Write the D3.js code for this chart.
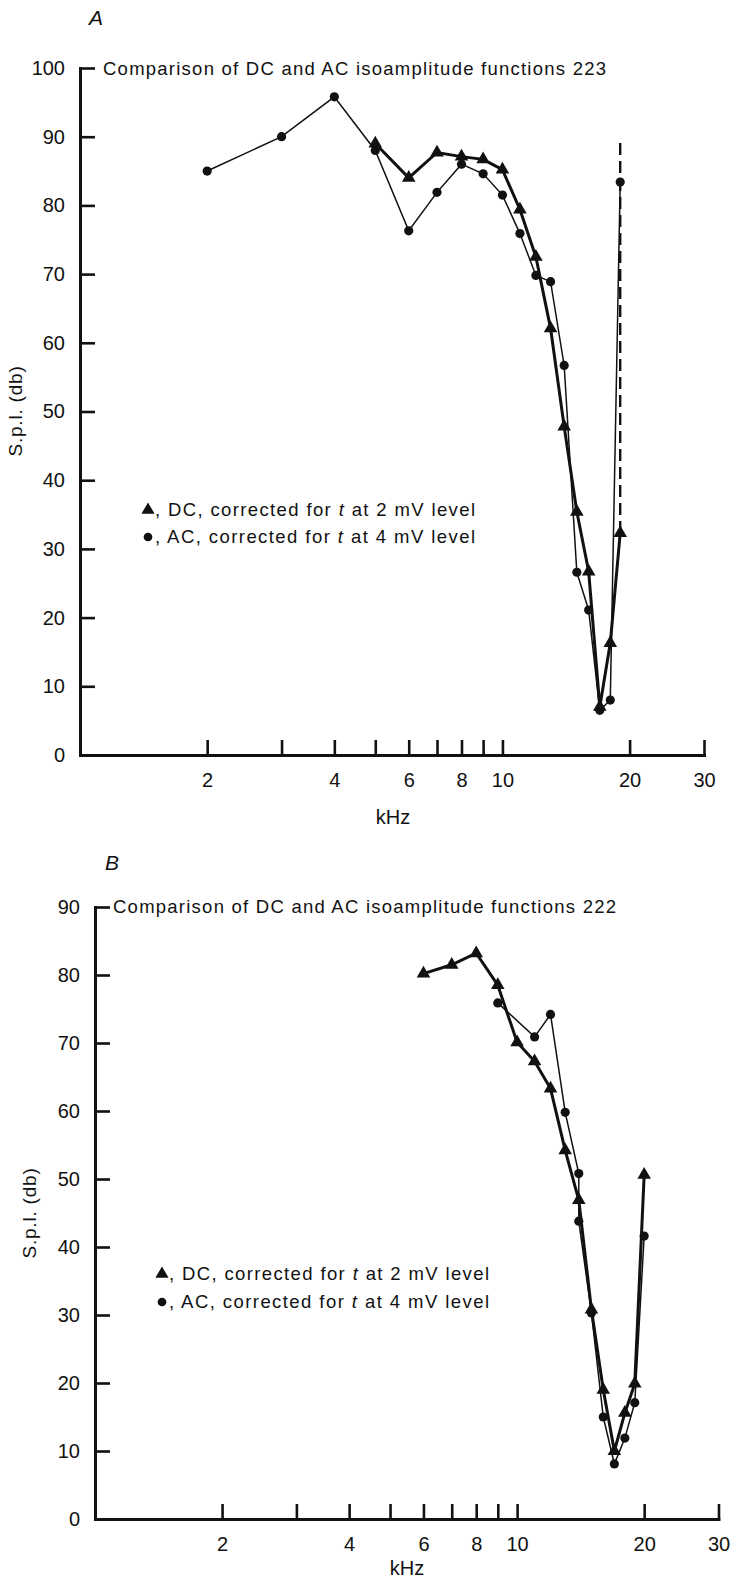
<!DOCTYPE html>
<html><head><meta charset="utf-8">
<script src="https://cdn.jsdelivr.net/npm/d3@7"></script>
<style>
body{margin:0;background:#fff;}
svg text{font-family:"Liberation Sans", Arial, Helvetica, sans-serif; fill:#111;}
</style></head><body>
<svg id="c" width="734" height="1582" xmlns="http://www.w3.org/2000/svg"></svg>
<script>
// ---------- data ----------
const xTickValues = [2,3,4,5,6,7,8,9,10,20,30];
const xTickLabels = [2,4,6,8,10,20,30];
const yTicksA = [0,10,20,30,40,50,60,70,80,90,100];
const yTicksB = [0,10,20,30,40,50,60,70,80,90];

const titleA = "Comparison of DC and AC isoamplitude functions 223";
const titleB = "Comparison of DC and AC isoamplitude functions 222";
const legendDC = ["DC, corrected for ", "t", " at 2 mV level"];
const legendAC = ["AC, corrected for ", "t", " at 4 mV level"];

// Panel A
const freqA_DC = [5,6,7,8,9,10,11,12,13,14,15,16,17,18,19];
const splA_DC  = [89,84,87.7,87.1,86.7,85.2,79.4,72.5,62.1,47.8,35.4,26.7,7,16.3,32.3];
const freqA_AC = [2,3,4,5,6,7,8,9,10,11,12,13,14,15,16,17,18,19];
const splA_AC  = [85,90,95.8,88,76.3,81.9,86,84.6,81.5,75.9,69.8,68.9,56.7,26.6,21.1,6.5,8.0,83.4];
const dashA_freq = [19,19];
const dashA_spl  = [32.3,89.5];

// Panel B
const freqB_DC = [6,7,8,9,10,11,12,13,14,15,16,17,18,19,20];
const splB_DC  = [80.2,81.5,83.2,78.5,70.1,67.3,63.3,54.2,46.9,30.8,19.0,10,15.6,19.9,50.6];
const freqB_AC = [9,11,12,13,14,14,15,16,17,18,19,20];
const splB_AC  = [75.9,70.9,74.2,59.8,50.8,43.8,30.3,15.0,8.1,11.9,17.1,41.6];

// ---------- drawing ----------
const svg = d3.select("#c");
const zip = (f,v) => f.map((d,i)=>({f:d, v:v[i]}));

function panel(o){
  const x = d3.scaleLog().domain([1,30]).range([o.x0,o.x1]);
  const y = d3.scaleLinear().domain([0,o.ymax]).range([o.y0,o.y1]);
  const g = svg.append("g");

  const ya = g.append("g").attr("transform",`translate(${o.x0},0)`)
    .call(d3.axisLeft(y).tickValues(o.yTicks).tickSize(-15).tickSizeOuter(0).tickPadding(15).tickFormat(d3.format("d")));
  const xa = g.append("g").attr("transform",`translate(0,${o.y0})`)
    .call(d3.axisBottom(x).tickValues(xTickValues).tickSize(-15).tickSizeOuter(0).tickPadding(18)
      .tickFormat(d => xTickLabels.includes(d) ? d : ""));
  [ya,xa].forEach(a=>{
    a.select(".domain").attr("stroke","#111").attr("stroke-width",3).attr("stroke-linecap","square");
    a.selectAll(".tick line").attr("stroke","#111").attr("stroke-width",2.6);
    a.selectAll(".tick text").attr("font-size",20).attr("fill","#111")
      .style("font-family","'Liberation Sans', Arial, sans-serif");
  });

  g.append("text").attr("x",o.letterX).attr("y",o.letterY).attr("font-size",21)
    .attr("font-style","italic").text(o.letter);
  g.append("text").attr("x",o.titleX).attr("y",o.titleY).attr("font-size",18.5)
    .attr("textLength",o.titleW).attr("lengthAdjust","spacing").text(o.title);
  g.append("text").attr("transform",`translate(${o.ylabX},${o.ylabY}) rotate(-90)`)
    .attr("text-anchor","middle").attr("font-size",19).attr("letter-spacing",0.8)
    .text("S.p.l. (db)");
  g.append("text").attr("x",o.kX).attr("y",o.kY).attr("text-anchor","middle")
    .attr("font-size",20).text("kHz");

  const leg = [[d3.symbolTriangle,legendDC,o.legY1],[d3.symbolCircle,legendAC,o.legY2]];
  leg.forEach(([sym,txt,ly])=>{
    g.append("path").attr("d",d3.symbol(sym, sym===d3.symbolCircle?60:75)())
      .attr("transform",`translate(${o.legX},${ly-6})`).attr("fill","#111");
    const t = g.append("text").attr("x",o.legX+7).attr("y",ly).attr("font-size",18.5)
      .attr("textLength",o.legW).attr("lengthAdjust","spacing");
    t.append("tspan").text(", "+txt[0]);
    t.append("tspan").attr("font-style","italic").text(txt[1]);
    t.append("tspan").text(txt[2]);
  });

  const line = d3.line().x(d=>x(d.f)).y(d=>y(d.v));
  const dc = zip(o.dcF,o.dcV), ac = zip(o.acF,o.acV);

  if(o.dashF){
    g.append("path").datum(zip(o.dashF,o.dashV)).attr("d",line)
      .attr("fill","none").attr("stroke","#111").attr("stroke-width",2.4).attr("stroke-dasharray","12,6");
  }
  g.append("path").datum(ac).attr("d",line).attr("fill","none").attr("stroke","#111").attr("stroke-width",1.5);
  g.append("path").datum(dc).attr("d",line).attr("fill","none").attr("stroke","#111").attr("stroke-width",3);

  g.selectAll(".ac").data(ac).join("circle").attr("class","ac")
    .attr("cx",d=>x(d.f)).attr("cy",d=>y(d.v)).attr("r",4.6).attr("fill","#111");
  g.selectAll(".dc").data(dc).join("path").attr("class","dc")
    .attr("d",d3.symbol(d3.symbolTriangle,80)())
    .attr("transform",d=>`translate(${x(d.f)},${y(d.v)})`).attr("fill","#111");
}

panel({x0:80,x1:704,y0:755,y1:68,ymax:100,yTicks:yTicksA,
  letter:"A",letterX:89,letterY:25,title:titleA,titleX:103,titleY:75,titleW:503,
  ylabX:22,ylabY:411,kX:393,kY:824,legX:148,legY1:516,legY2:543,legW:320,
  dcF:freqA_DC,dcV:splA_DC,acF:freqA_AC,acV:splA_AC,dashF:dashA_freq,dashV:dashA_spl});

panel({x0:95,x1:718.5,y0:1519,y1:907,ymax:90,yTicks:yTicksB,
  letter:"B",letterX:105,letterY:870,title:titleB,titleX:113,titleY:913,titleW:503,
  ylabX:36,ylabY:1213,kX:407,kY:1575,legX:162,legY1:1280,legY2:1308,legW:320,
  dcF:freqB_DC,dcV:splB_DC,acF:freqB_AC,acV:splB_AC});
</script>
</body></html>
